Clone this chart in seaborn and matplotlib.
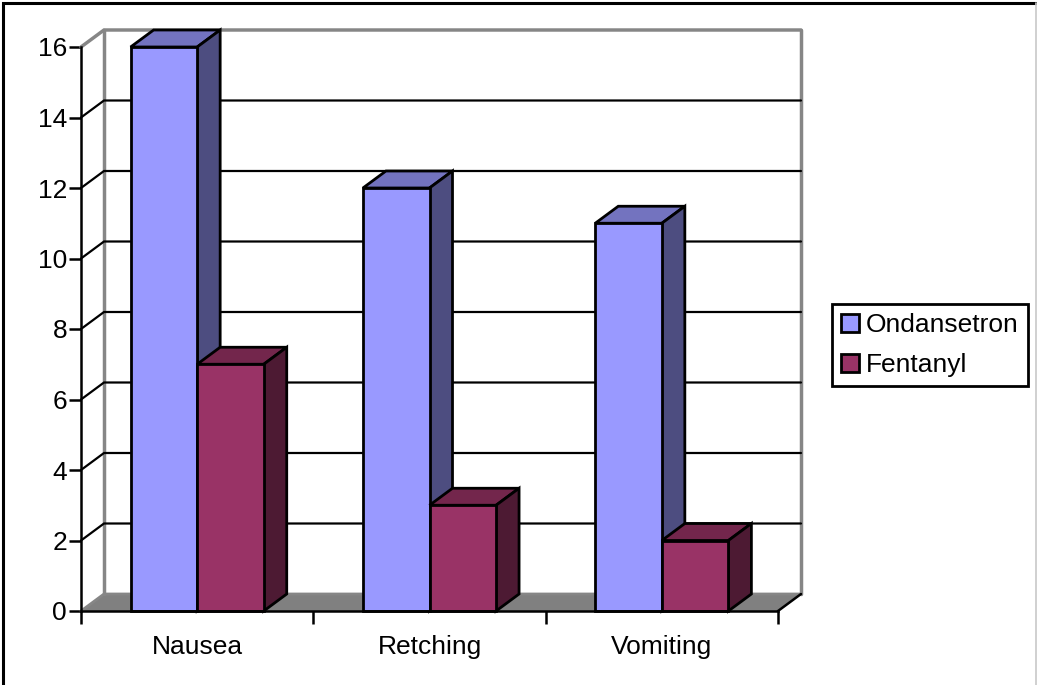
import matplotlib
matplotlib.use("Agg")
import matplotlib.pyplot as plt
from matplotlib.patches import Polygon, Rectangle
from matplotlib.lines import Line2D
import pandas as pd
import seaborn as sns

symptoms = ["Nausea", "Retching", "Vomiting"]
ondansetron = [16, 12, 11]
fentanyl = [7, 3, 2]
y_ticks = [0, 2, 4, 6, 8, 10, 12, 14, 16]

treatments = ["Ondansetron", "Fentanyl"]
front_colors = ["#9999FF", "#993366"]
top_colors = ["#7373BF", "#73264C"]
side_colors = ["#4D4D80", "#4D1A33"]
WALL_GREY = "#868686"
FLOOR_GREY = "#808080"

W, H = 1037, 685
sns.set_style("white")
plt.rcParams["font.family"] = ["Liberation Sans", "DejaVu Sans"]
plt.rcParams["text.color"] = "black"
plt.rcParams["xtick.labelcolor"] = "black"
plt.rcParams["ytick.labelcolor"] = "black"

df = pd.DataFrame({
    "symptom": symptoms * 2,
    "count": ondansetron + fentanyl,
    "treatment": [treatments[0]] * 3 + [treatments[1]] * 3,
})

fig = plt.figure(figsize=(W / 100, H / 100), dpi=100, facecolor="white")
ax = fig.add_axes([81 / W, 1 - 611 / H, (778 - 81) / W, (611 - 47) / H])

sns.barplot(
    data=df, x="symptom", y="count", hue="treatment", order=symptoms,
    hue_order=treatments, palette=front_colors, saturation=1, width=0.573,
    gap=0, edgecolor="black", linewidth=2, legend=False, ax=ax, zorder=5,
)
ax.set_xlim(-0.5, 2.5)
ax.set_ylim(0, 16)

# Oblique depth of the box, expressed in data units
DX = 23 / ((778 - 81) / 3)
DY = 17 / ((611 - 47) / 16)
x0, x1 = -0.5, 2.5

# Floor and back wall
ax.add_patch(Polygon([(x0, 0), (x0 + DX, DY), (x1 + DX, DY), (x1, 0)],
                     closed=True, facecolor=FLOOR_GREY, edgecolor="none",
                     clip_on=False, zorder=1))
ax.plot([x0, x0 + DX, x1 + DX], [0, DY, DY], color=WALL_GREY, lw=2,
        clip_on=False, zorder=1.5, solid_joinstyle="miter")
ax.plot([x0 + DX, x0 + DX], [DY, 16 + DY], color=WALL_GREY, lw=2.5,
        clip_on=False, zorder=1.5)
ax.plot([x1 + DX, x1 + DX], [DY, 16 + DY], color=WALL_GREY, lw=2.5,
        clip_on=False, zorder=1.5)
ax.plot([x0, x0 + DX, x1 + DX], [16, 16 + DY, 16 + DY], color=WALL_GREY,
        lw=2.5, clip_on=False, zorder=1.5, solid_joinstyle="miter")

# Major gridlines run across the wall and step down the left side
for v in y_ticks[1:-1]:
    ax.plot([x0, x0 + DX, x1 + DX], [v, v + DY, v + DY], color="black",
            lw=1.6, clip_on=False, zorder=2, solid_joinstyle="miter")

# Top and side faces of every bar, painted left to right
bars = []
for s, container in enumerate(ax.containers):
    for bar in container:
        bars.append((bar.get_x(), s, bar))
bars.sort(key=lambda item: (round(item[0], 3)))

for order, (_, s, bar) in enumerate(bars):
    left, w, h = bar.get_x(), bar.get_width(), bar.get_height()
    right = left + w
    z = 3 + order * 0.1
    bar.set_zorder(z + 0.05)
    bar.set_clip_on(False)
    ax.add_patch(Polygon(
        [(left, h), (left + DX, h + DY), (right + DX, h + DY), (right, h)],
        closed=True, facecolor=top_colors[s], edgecolor="black", lw=2,
        clip_on=False, zorder=z, joinstyle="miter"))
    ax.add_patch(Polygon(
        [(right, 0), (right + DX, DY), (right + DX, h + DY), (right, h)],
        closed=True, facecolor=side_colors[s], edgecolor="black", lw=2,
        clip_on=False, zorder=z, joinstyle="miter"))

# Axes lines and ticks
sns.despine(ax=ax, top=True, right=True)
for side in ("left", "bottom"):
    ax.spines[side].set_linewidth(1.8)
    ax.spines[side].set_color("black")
    ax.spines[side].set_zorder(6)
ax.set_xlabel("")
ax.set_ylabel("")
ax.set_yticks(y_ticks)
ax.set_xticks([-0.5, 0.5, 1.5, 2.5], labels=[])
ax.set_xticks([0, 1, 2], labels=symptoms, minor=True)
ax.tick_params(axis="y", length=9, width=1.8, color="black", labelsize=19,
               labelcolor="black", pad=1, left=True)
ax.tick_params(axis="x", which="major", length=9, width=1.8, color="black",
               bottom=True)
ax.tick_params(axis="x", which="minor", length=0, labelsize=19,
               labelcolor="black", pad=17, bottom=False)
ax.plot([x1, x1 + DX], [0, DY], color="black", lw=1.8, clip_on=False, zorder=6)

# Legend
handles = [Rectangle((0, 0), 1, 1, facecolor=c, edgecolor="black", lw=2)
           for c in front_colors]
legend = fig.legend(
    handles, treatments, loc="center left",
    bbox_to_anchor=(832 / W, 1 - 345 / H, 196 / W, 0), mode="expand",
    frameon=True, fancybox=False,
    edgecolor="black", facecolor="white", framealpha=1, fontsize=19,
    handlelength=0.68, handleheight=0.68, handletextpad=0.28,
    labelspacing=0.62, borderpad=0.33, borderaxespad=0,
)
legend.get_frame().set_linewidth(2)

# Outer chart border
fig.add_artist(Line2D([2.5 / W, 2.5 / W, 1 - 1 / W], [0, 1 - 3.3 / H, 1 - 3.3 / H],
                      color="black", lw=2.2, transform=fig.transFigure,
                      solid_joinstyle="miter"))
fig.add_artist(Line2D([1 - 0.7 / W, 1 - 0.7 / W], [0, 1 - 3.3 / H],
                      color="#C8C8C8", lw=1.2, transform=fig.transFigure))

fig.savefig("out.png", dpi=100, facecolor="white")
